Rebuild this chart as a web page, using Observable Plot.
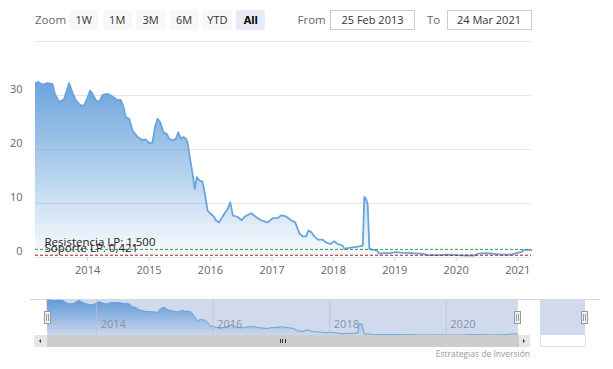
<!DOCTYPE html>
<html><head><meta charset="utf-8">
<script src="https://cdn.jsdelivr.net/npm/d3@7"></script>
<script src="https://cdn.jsdelivr.net/npm/@observablehq/plot@0.6"></script>
<style>
body{margin:0;background:#fff;font-family:"Open Sans",sans-serif;}
#wrap{position:relative;width:613px;height:369px;overflow:hidden;background:#fff;}
.abs{position:absolute;}
.btn{position:absolute;top:10px;height:20px;width:29px;line-height:20px;text-align:center;font-size:11px;color:#333;background:#f7f7f7;border-radius:2px;}
.btn.sel{background:#e6ebf5;font-weight:bold;color:#000;}
.lbl{position:absolute;top:10px;line-height:20px;font-size:11.5px;color:#666;}
.inp{position:absolute;top:10px;height:18px;width:83px;border:1px solid #cccccc;line-height:18px;text-align:center;font-size:11px;color:#333;background:#fff;}
.handle{position:absolute;width:5px;height:11px;background:#f2f2f2;border:1px solid #999;}
.handle:after{content:"";position:absolute;left:1px;top:2px;width:1px;height:7px;border-left:1px solid #999;border-right:1px solid #999;}
</style></head>
<body>
<div id="wrap"></div>
<script>
// ---- data ----
const dates = ["2013-02-25","2013-03-13","2013-04-08","2013-05-08","2013-06-07","2013-06-20","2013-07-15","2013-08-14","2013-09-13","2013-10-03","2013-10-23","2013-11-22","2013-12-12",
"2014-01-01","2014-01-16","2014-01-30","2014-02-19","2014-03-11","2014-04-01","2014-04-30","2014-05-19","2014-06-08","2014-06-28","2014-07-17","2014-07-31","2014-08-16","2014-09-05","2014-09-25","2014-10-25","2014-11-24","2014-12-13",
"2015-01-02","2015-01-22","2015-02-05","2015-02-21","2015-03-08","2015-03-28","2015-04-16","2015-05-01","2015-05-21","2015-06-10","2015-06-24","2015-07-09","2015-07-25","2015-08-08","2015-08-18","2015-09-02","2015-09-17","2015-09-30","2015-10-12","2015-10-26","2015-11-15","2015-11-29","2015-12-15",
"2016-01-03","2016-01-23","2016-02-02","2016-02-22","2016-03-24","2016-04-13","2016-04-28","2016-05-13","2016-06-11","2016-07-05","2016-07-25","2016-08-30","2016-09-28","2016-10-28","2016-12-07",
"2017-01-06","2017-02-04","2017-02-24","2017-03-26","2017-04-25","2017-05-19","2017-06-14","2017-07-03","2017-07-23","2017-08-06","2017-08-22","2017-09-10","2017-09-30","2017-10-29","2017-11-18","2017-12-14",
"2018-01-06","2018-01-26","2018-02-25","2018-03-07","2018-04-06","2018-05-26","2018-06-25","2018-07-04","2018-07-14","2018-07-24","2018-08-03","2018-08-23","2018-09-17","2018-10-01","2018-10-30","2018-11-29",
"2019-01-08","2019-02-07","2019-04-07","2019-06-06","2019-07-25","2019-10-03","2019-11-12",
"2020-01-10","2020-03-10","2020-04-18","2020-05-09","2020-07-07","2020-09-24","2020-11-23","2020-12-23",
"2021-01-21","2021-02-10","2021-03-24"];
const prices = [32.2,32.5,32.0,32.3,32.1,30.3,28.8,29.3,32.3,30.5,29.1,28.1,28.2,
29.6,30.9,30.3,29.1,28.8,30.1,30.3,30.0,29.6,29.1,29.2,28.1,26.0,25.7,23.5,22.3,21.7,21.9,
21.2,21.3,24.1,25.7,25.1,23.2,22.9,22.0,21.7,22.0,23.2,22.0,22.3,22.0,21.3,18.3,15.5,12.7,14.9,14.3,14.0,11.8,8.7,
8.1,7.5,6.9,6.5,8.1,9.0,10.2,7.8,7.5,6.9,7.6,8.2,7.5,6.9,6.5,
7.3,7.3,7.8,7.6,6.9,6.5,4.4,3.9,3.9,5.0,4.7,3.9,3.3,3.3,2.8,2.5,
3.0,2.5,2.2,1.6,1.8,2.0,2.2,11.2,10.9,9.9,1.6,1.4,1.3,0.7,0.8,0.8,
1.0,0.9,0.8,0.7,0.43,0.43,0.55,
0.43,0.37,0.37,0.7,0.8,0.55,0.55,0.8,
1.0,1.4,1.4];
const yTicks = [0,10,20,30];
const xTickYears = [2014,2015,2016,2017,2018,2019,2020,2021];
const navTickYears = [2014,2016,2018,2020];
const levelValues = [1.5, 0.421];
const levelLabels = ["Resistencia LP: 1,500", "Soporte LP: 0,421"];
const levelColors = ["#3d9a45", "#a11f24"];
const rangeButtons = ["1W","1M","3M","6M","YTD","All"];
const fromDate = "25 Feb 2013";
const toDate = "24 Mar 2021";
const credit = "Estrategias de Inversión";

const data = dates.map((d,i) => ({date: new Date(d + "T00:00:00Z"), value: prices[i]}));
const xDomain = [data[0].date, data[data.length-1].date];
const levels = levelValues.map((v,i) => ({value: v, label: levelLabels[i], color: levelColors[i]}));

const wrap = document.getElementById("wrap");
function addDiv(cls, style, text) {
  const d = document.createElement("div");
  d.className = cls;
  Object.assign(d.style, style);
  if (text != null) d.textContent = text;
  wrap.appendChild(d);
  return d;
}
function addGradient(svg, id, color, o0, o1) {
  const ns = "http://www.w3.org/2000/svg";
  const defs = document.createElementNS(ns, "defs");
  const g = document.createElementNS(ns, "linearGradient");
  g.setAttribute("id", id);
  g.setAttribute("x1", "0"); g.setAttribute("y1", "0"); g.setAttribute("x2", "0"); g.setAttribute("y2", "1");
  [[0, o0], [1, o1]].forEach(([off, op]) => {
    const s = document.createElementNS(ns, "stop");
    s.setAttribute("offset", off);
    s.setAttribute("stop-color", color);
    s.setAttribute("stop-opacity", op);
    g.appendChild(s);
  });
  defs.appendChild(g);
  svg.insertBefore(defs, svg.firstChild);
}

// ---- toolbar ----
addDiv("lbl", {left: "35px"}, "Zoom");
rangeButtons.forEach((b, i) => {
  addDiv("btn" + (b === "All" ? " sel" : ""), {left: (69.3 + i * 33.4) + "px"}, b);
});
addDiv("lbl", {left: "297.5px"}, "From");
addDiv("inp", {left: "330px"}, fromDate);
addDiv("lbl", {left: "427px"}, "To");
addDiv("inp", {left: "446.5px"}, toDate);

// ---- main chart ----
const lineColor = "#6aa4dc";
const main = Plot.plot({
  width: 613, height: 285,
  marginLeft: 35, marginRight: 82, marginTop: 41, marginBottom: 28,
  style: {fontFamily: "Open Sans, sans-serif", fontSize: "11px", color: "#666", background: "transparent"},
  x: {type: "utc", domain: xDomain, label: null},
  y: {domain: [0, 40], label: null},
  marks: [
    Plot.gridY([0,10,20,30,40], {stroke: "#e6e6e6", strokeOpacity: 1}),
    Plot.areaY(data, {x: "date", y: "value", fill: "url(#mainGrad)"}),
    Plot.lineY(data, {x: "date", y: "value", stroke: lineColor, strokeWidth: 1.8}),
    Plot.ruleY(levels, {y: "value", stroke: "color", strokeDasharray: "3,2", strokeWidth: 1}),
    Plot.text(levels, {y: "value", text: "label", frameAnchor: "left", dx: 9, dy: -7, textAnchor: "start", fill: "#222", fontSize: 11.5}),
    Plot.axisY({ticks: yTicks, tickSize: 0, tickPadding: 13, dy: -6, fill: "#666", label: null}),
    Plot.axisX({ticks: xTickYears.map(y => new Date(Date.UTC(y,0,1))), tickFormat: d3.utcFormat("%Y"), tickSize: 4, tickPadding: 5, stroke: "#ccd6eb", fill: "#666", label: null})
  ]
});
addGradient(main, "mainGrad", lineColor, 1, 0.03);
main.style.position = "absolute"; main.style.left = "0px"; main.style.top = "0px";
wrap.appendChild(main);

// ---- navigator ----
addDiv("abs", {left: "30px", top: "299px", width: "570px", height: "1px", background: "#d6d6d6"});
const nav = Plot.plot({
  width: 613, height: 36,
  marginLeft: 46.7, marginRight: 95.7, marginTop: 0, marginBottom: 0,
  style: {fontFamily: "Open Sans, sans-serif", fontSize: "11px", color: "#8791a3", background: "transparent"},
  x: {type: "utc", domain: xDomain, axis: null},
  y: {domain: [0, 33], axis: null},
  marks: [
    Plot.frame({fill: "#d1daed", stroke: null}),
    Plot.areaY(data, {x: "date", y: "value", fill: "url(#navGrad)"}),
    Plot.lineY(data, {x: "date", y: "value", stroke: lineColor, strokeWidth: 1}),
    Plot.gridX(navTickYears.map(y => new Date(Date.UTC(y,0,1))), {stroke: "#b9c2d3", strokeOpacity: 0.8}),
    Plot.text(navTickYears, {x: y => new Date(Date.UTC(y,0,1)), text: y => String(y), frameAnchor: "bottom", dy: -8, dx: 4, textAnchor: "start", fill: "#8791a3"})
  ]
});
addGradient(nav, "navGrad", "#5f9ad8", 1, 0.05);
nav.style.position = "absolute"; nav.style.left = "0px"; nav.style.top = "299px";
wrap.appendChild(nav);

// handles
addDiv("handle", {left: "44px", top: "311px"});
addDiv("handle", {left: "514px", top: "311px"});
// right side box
addDiv("abs", {left: "540px", top: "299px", width: "45px", height: "36px", background: "#d1daed"});
addDiv("abs", {left: "540px", top: "335px", width: "44px", height: "11px", background: "#fff", border: "1px solid #e0e0e0", borderTop: "none"});
addDiv("handle", {left: "581px", top: "311px"});
// scrollbar
addDiv("abs", {left: "34px", top: "335px", width: "496px", height: "12px", background: "#e6e6e6"});
addDiv("abs", {left: "46.7px", top: "335px", width: "472.3px", height: "12px", background: "#cdcdcd"});
addDiv("abs", {left: "39px", top: "339px", width: "0", height: "0", borderTop: "2px solid transparent", borderBottom: "2px solid transparent", borderRight: "2px solid #333"});
addDiv("abs", {left: "523px", top: "339px", width: "0", height: "0", borderTop: "2px solid transparent", borderBottom: "2px solid transparent", borderLeft: "2px solid #333"});
[279.5, 282, 284.5].forEach(x => addDiv("abs", {left: x + "px", top: "339px", width: "1px", height: "4px", background: "#333"}));

// credit
addDiv("abs", {right: (613 - 530) + "px", top: "348px", fontSize: "8.5px", color: "#999", whiteSpace: "nowrap"}, credit);
</script>
</body></html>
